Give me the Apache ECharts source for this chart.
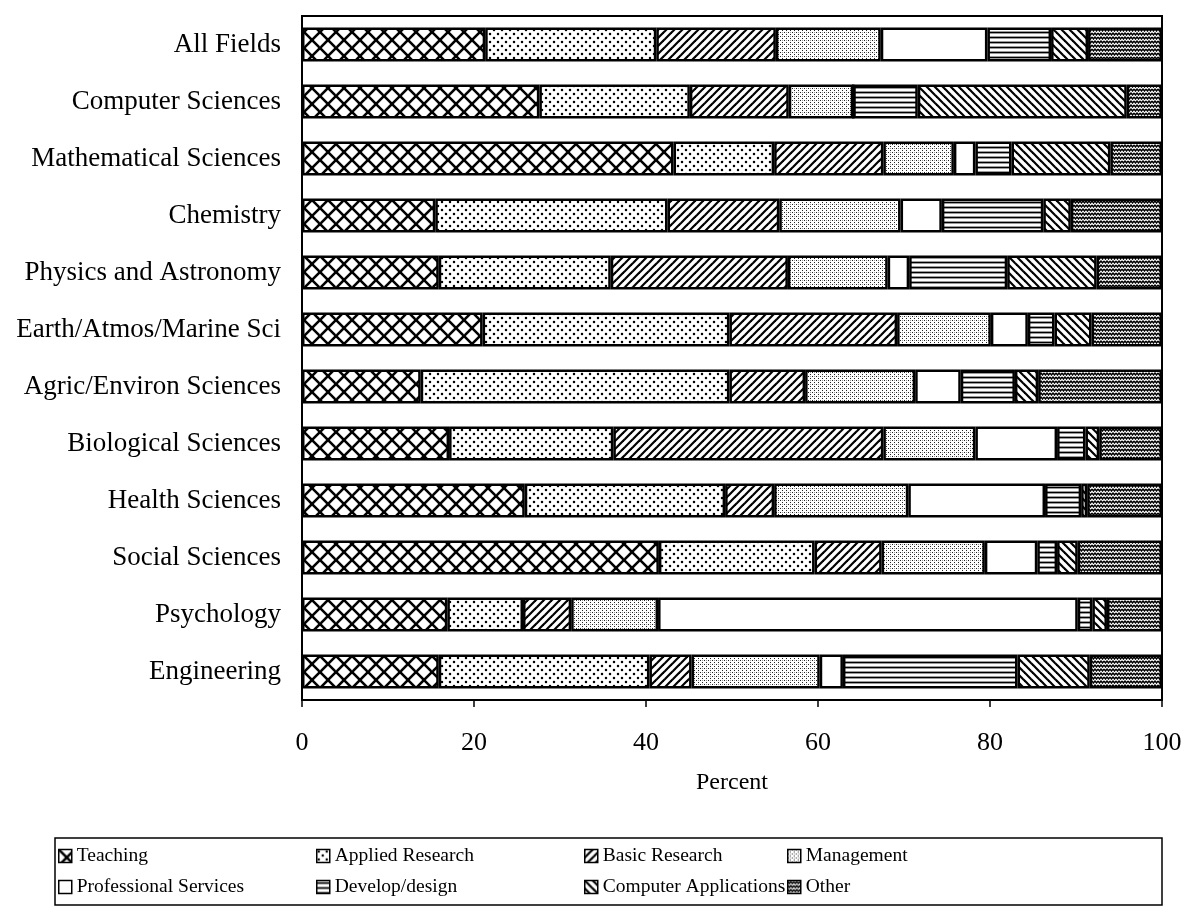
<!DOCTYPE html>
<html>
<head>
<meta charset="utf-8">
<title>Primary work activity by field</title>
<script src="https://cdn.jsdelivr.net/npm/echarts@6/dist/echarts.min.js"></script>
<style>
  html, body { margin: 0; padding: 0; background: #fff; }
  #chart { width: 1190px; height: 912px; }
</style>
</head>
<body>
<div id="chart"></div>
<script>
// Fields, top to bottom
const categories = [
  'All Fields', 'Computer Sciences', 'Mathematical Sciences', 'Chemistry',
  'Physics and Astronomy', 'Earth/Atmos/Marine Sci', 'Agric/Environ Sciences',
  'Biological Sciences', 'Health Sciences', 'Social Sciences', 'Psychology', 'Engineering'
];

// Percent of each field in each primary work activity
const teaching      = [21.3, 27.6, 43.2, 15.5, 15.9, 21.0, 13.8, 17.1, 25.9, 41.5, 16.9, 15.9];
const applied       = [19.9, 17.5, 11.7, 27.0, 20.0, 28.7, 35.9, 19.1, 23.3, 18.1,  8.8, 24.5];
const basic         = [13.9, 11.5, 12.7, 13.0, 20.6, 19.5,  8.8, 31.4,  5.7,  7.8,  5.6,  4.9];
const management    = [12.2,  7.5,  8.2, 14.1, 11.6, 10.9, 12.8, 10.7, 15.6, 12.0, 10.1, 14.9];
const professional  = [12.4,  0.0,  2.5,  4.8,  2.5,  4.3,  5.3,  9.5, 15.9,  6.1, 48.8,  2.7];
const develop       = [ 7.4,  7.5,  4.2, 11.8, 11.4,  3.1,  6.3,  3.3,  4.2,  2.3,  1.7, 20.3];
const computerApps  = [ 4.3, 24.3, 11.5,  3.2, 10.4,  4.3,  2.7,  1.6,  0.7,  2.4,  1.7,  8.4];
const other         = [ 8.6,  4.1,  6.0, 10.6,  7.6,  8.2, 14.4,  7.3,  8.7,  9.8,  6.4,  8.4];

const seriesNames = ['Teaching', 'Applied Research', 'Basic Research', 'Management',
  'Professional Services', 'Develop/design', 'Computer Applications', 'Other'];
const seriesValues = [teaching, applied, basic, management, professional, develop, computerApps, other];

// Black-and-white hatch fills built on small canvas tiles
function tile(w, h, draw) {
  const c = document.createElement('canvas');
  c.width = w; c.height = h;
  const g = c.getContext('2d');
  g.fillStyle = '#fff';
  g.fillRect(0, 0, w, h);
  g.strokeStyle = '#000';
  g.fillStyle = '#000';
  draw(g, w, h);
  return { image: c, repeat: 'repeat' };
}
function line(g, x1, y1, x2, y2) {
  g.beginPath(); g.moveTo(x1, y1); g.lineTo(x2, y2); g.stroke();
}

const patterns = [
  // crosshatch
  tile(16, 16, (g, w, h) => {
    g.lineWidth = 2.6;
    line(g, -2, -2, w + 2, h + 2);
    line(g, w + 2, -2, -2, h + 2);
  }),
  // spaced dots
  tile(8, 8, (g) => {
    g.beginPath(); g.arc(2, 2, 1.25, 0, Math.PI * 2); g.fill();
    g.beginPath(); g.arc(6, 6, 1.25, 0, Math.PI * 2); g.fill();
  }),
  // forward diagonals
  tile(8, 8, (g, w, h) => {
    g.lineWidth = 2.2;
    line(g, -1, h + 1, w + 1, -1);
    line(g, -w / 2 - 1, h / 2 + 1, w / 2 + 1, -h / 2 - 1);
    line(g, w / 2 - 1, h * 1.5 + 1, w * 1.5 + 1, h / 2 - 1);
  }),
  // fine grey stipple
  tile(4, 4, (g) => {
    g.fillStyle = '#222';
    g.fillRect(0, 0, 1, 1);
    g.fillRect(2, 2, 1, 1);
    g.fillStyle = '#999';
    g.fillRect(2, 0, 1, 1);
  }),
  // plain white
  '#ffffff',
  // horizontal rules
  tile(4, 5, (g, w) => {
    g.lineWidth = 1.8;
    line(g, 0, 2.5, w, 2.5);
  }),
  // back diagonals
  tile(8, 8, (g, w, h) => {
    g.lineWidth = 2.2;
    line(g, -1, -1, w + 1, h + 1);
    line(g, w / 2 - 1, -h / 2 - 1, w * 1.5 + 1, h / 2 + 1);
    line(g, -w / 2 - 1, h / 2 - 1, w / 2 + 1, h * 1.5 + 1);
  }),
  // dense wavy texture
  tile(6, 4, (g) => {
    g.lineWidth = 1.4;
    g.beginPath();
    g.moveTo(0, 1); g.lineTo(1.5, 3); g.lineTo(3, 1); g.lineTo(4.5, 3); g.lineTo(6, 1);
    g.stroke();
  })
];

const font = '"Liberation Serif", "DejaVu Serif", serif';

const series = seriesNames.map((name, i) => ({
  name: name,
  type: 'bar',
  stack: 'total',
  barWidth: 34,
  data: seriesValues[i],
  itemStyle: { color: patterns[i], borderColor: '#000', borderWidth: 2.5 },
  emphasis: { disabled: true }
}));

// Legend laid out as four columns of two entries
const legendCols = [
  { left: 58, items: ['Teaching', 'Professional Services'] },
  { left: 316, items: ['Applied Research', 'Develop/design'] },
  { left: 584, items: ['Basic Research', 'Computer Applications'] },
  { left: 787, items: ['Management', 'Other'] }
];
const legends = legendCols.map(col => ({
  data: col.items,
  orient: 'vertical',
  left: col.left,
  top: 846,
  padding: 0,
  itemGap: 11,
  itemWidth: 13,
  itemHeight: 13,
  icon: 'rect',
  selectedMode: false,
  itemStyle: { borderColor: '#000', borderWidth: 1.5 },
  textStyle: { fontFamily: font, fontSize: 19.5, color: '#000' }
}));

const chart = echarts.init(document.getElementById('chart'), null, { renderer: 'canvas' });
chart.setOption({
  animation: false,
  backgroundColor: '#fff',
  grid: {
    left: 302, right: 28, top: 16, bottom: 212,
    show: true, borderColor: '#000', borderWidth: 2
  },
  xAxis: {
    type: 'value',
    min: 0, max: 100, interval: 20,
    name: 'Percent',
    nameLocation: 'middle',
    nameGap: 71,
    nameTextStyle: { fontFamily: font, fontSize: 24, color: '#000' },
    axisLine: { show: true, lineStyle: { color: '#000', width: 2 } },
    axisTick: { show: true, length: 7, lineStyle: { color: '#000', width: 1.5 } },
    axisLabel: { fontFamily: font, fontSize: 26, color: '#000', margin: 30 },
    splitLine: { show: false }
  },
  yAxis: {
    type: 'category',
    inverse: true,
    data: categories,
    axisLine: { show: true, lineStyle: { color: '#000', width: 2 } },
    axisTick: { show: false },
    axisLabel: { fontFamily: font, fontSize: 27, color: '#000', margin: 21 }
  },
  legend: legends,
  graphic: [{
    type: 'rect',
    shape: { x: 55, y: 838, width: 1107, height: 67 },
    style: { fill: 'none', stroke: '#000', lineWidth: 1.5 },
    silent: true
  }],
  series: series
});
</script>
</body>
</html>
